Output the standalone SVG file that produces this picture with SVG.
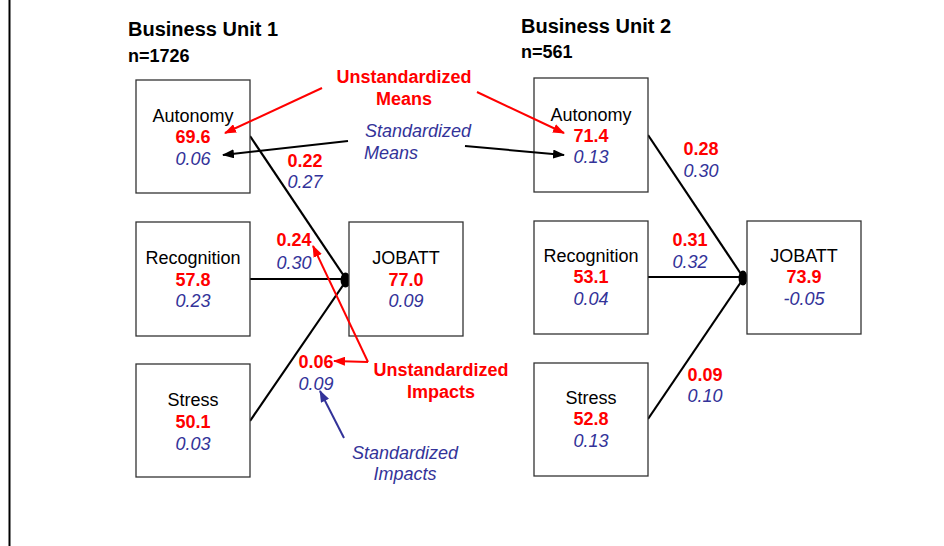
<svg xmlns="http://www.w3.org/2000/svg" width="944" height="546" viewBox="0 0 944 546">
<style>
text{font-family:"Liberation Sans",Arial,sans-serif;}
.box{fill:#fff;stroke:#333;stroke-width:1.3;}
.lbl{font-size:18px;fill:#000;text-anchor:middle;}
.v{font-size:18px;font-weight:bold;fill:#ff0000;text-anchor:middle;}
.s{font-size:18px;font-style:italic;fill:#333399;text-anchor:middle;}
.title{font-size:20px;font-weight:bold;fill:#000;}
.n{font-size:18px;font-weight:bold;fill:#000;}
.path{stroke:#000;stroke-width:2.2;fill:none;}
.ra{stroke:#ff0000;stroke-width:2;fill:none;marker-end:url(#mr);}
.ka{stroke:#000;stroke-width:2;fill:none;marker-end:url(#mk);}
.ba{stroke:#333399;stroke-width:2;fill:none;marker-end:url(#mb);}
</style>
<defs>
<marker id="mr" markerWidth="12" markerHeight="9" refX="11" refY="4.5" orient="auto" markerUnits="userSpaceOnUse"><path d="M0,0 L12,4.5 L0,9 z" fill="#ff0000"/></marker>
<marker id="mk" markerWidth="12" markerHeight="9" refX="11" refY="4.5" orient="auto" markerUnits="userSpaceOnUse"><path d="M0,0 L12,4.5 L0,9 z" fill="#000"/></marker>
<marker id="mb" markerWidth="12" markerHeight="9" refX="11" refY="4.5" orient="auto" markerUnits="userSpaceOnUse"><path d="M0,0 L12,4.5 L0,9 z" fill="#333399"/></marker>
</defs>
<rect x="0" y="0" width="944" height="546" fill="#fff"/>
<line x1="9.5" y1="0" x2="9.5" y2="546" stroke="#000" stroke-width="2"/>

<text class="title" x="128" y="36">Business Unit 1</text>
<text class="n" x="128" y="62">n=1726</text>
<text class="title" x="521" y="33">Business Unit 2</text>
<text class="n" x="521" y="58">n=561</text>

<g id="connectors">
<line class="path" x1="250" y1="136" x2="346" y2="279"/>
<line class="path" x1="250" y1="279" x2="346" y2="279"/>
<line class="path" x1="250" y1="421" x2="346" y2="281"/>
<ellipse cx="345.5" cy="280" rx="5" ry="7.5" fill="#000"/>
<line class="path" x1="648" y1="135" x2="743" y2="277"/>
<line class="path" x1="648" y1="277" x2="743" y2="277"/>
<line class="path" x1="648" y1="419" x2="743" y2="279"/>
<ellipse cx="743" cy="278" rx="4.5" ry="7.5" fill="#000"/>
</g>

<g id="bu1-autonomy">
<rect class="box" x="136" y="80" width="114" height="113"/>
<text class="lbl" x="193" y="122">Autonomy</text>
<text class="v" x="193" y="143">69.6</text>
<text class="s" x="193" y="165">0.06</text>
</g>
<g id="bu1-recognition">
<rect class="box" x="136" y="222" width="114" height="114"/>
<text class="lbl" x="193" y="264">Recognition</text>
<text class="v" x="193" y="286">57.8</text>
<text class="s" x="193" y="307">0.23</text>
</g>
<g id="bu1-stress">
<rect class="box" x="136" y="364" width="114" height="113"/>
<text class="lbl" x="193" y="406">Stress</text>
<text class="v" x="193" y="428">50.1</text>
<text class="s" x="193" y="450">0.03</text>
</g>
<g id="bu1-jobatt">
<rect class="box" x="349" y="222" width="114" height="114"/>
<text class="lbl" x="406" y="264">JOBATT</text>
<text class="v" x="406" y="286">77.0</text>
<text class="s" x="406" y="307">0.09</text>
</g>

<g id="bu2-autonomy">
<rect class="box" x="534" y="78" width="114" height="114"/>
<text class="lbl" x="591" y="121">Autonomy</text>
<text class="v" x="591" y="142">71.4</text>
<text class="s" x="591" y="163">0.13</text>
</g>
<g id="bu2-recognition">
<rect class="box" x="534" y="221" width="114" height="113"/>
<text class="lbl" x="591" y="262">Recognition</text>
<text class="v" x="591" y="283">53.1</text>
<text class="s" x="591" y="305">0.04</text>
</g>
<g id="bu2-stress">
<rect class="box" x="534" y="363" width="114" height="113"/>
<text class="lbl" x="591" y="404">Stress</text>
<text class="v" x="591" y="425">52.8</text>
<text class="s" x="591" y="447">0.13</text>
</g>
<g id="bu2-jobatt">
<rect class="box" x="747" y="221" width="114" height="113"/>
<text class="lbl" x="804" y="262">JOBATT</text>
<text class="v" x="804" y="283">73.9</text>
<text class="s" x="804" y="305">-0.05</text>
</g>

<g id="path-labels">
<text class="v" x="305" y="167">0.22</text>
<text class="s" x="305" y="188">0.27</text>
<text class="v" x="294" y="246">0.24</text>
<text class="s" x="294" y="269">0.30</text>
<text class="v" x="316" y="368">0.06</text>
<text class="s" x="316" y="390">0.09</text>
<text class="v" x="701" y="155">0.28</text>
<text class="s" x="701" y="177">0.30</text>
<text class="v" x="690" y="246">0.31</text>
<text class="s" x="690" y="268">0.32</text>
<text class="v" x="705" y="381">0.09</text>
<text class="s" x="705" y="402">0.10</text>
</g>

<g id="annotations">
<text class="v" x="404" y="83">Unstandardized</text>
<text class="v" x="404" y="105">Means</text>
<text class="s" x="418" y="137">Standardized</text>
<text class="s" x="391" y="159">Means</text>
<text class="v" x="441" y="376">Unstandardized</text>
<text class="v" x="441" y="398">Impacts</text>
<text class="s" x="405" y="459">Standardized</text>
<text class="s" x="405" y="480">Impacts</text>
</g>

<g id="annotation-arrows">
<line class="ra" x1="322" y1="88" x2="225" y2="133"/>
<line class="ra" x1="477" y1="92" x2="564" y2="133"/>
<line class="ka" x1="348" y1="141" x2="223" y2="155"/>
<line class="ka" x1="465" y1="146" x2="564" y2="155"/>
<polyline class="ra" points="368,362 313,246"/>
<polyline class="ra" points="368,362 334,361"/>
<line class="ba" x1="344" y1="438" x2="320" y2="391"/>
</g>
</svg>
